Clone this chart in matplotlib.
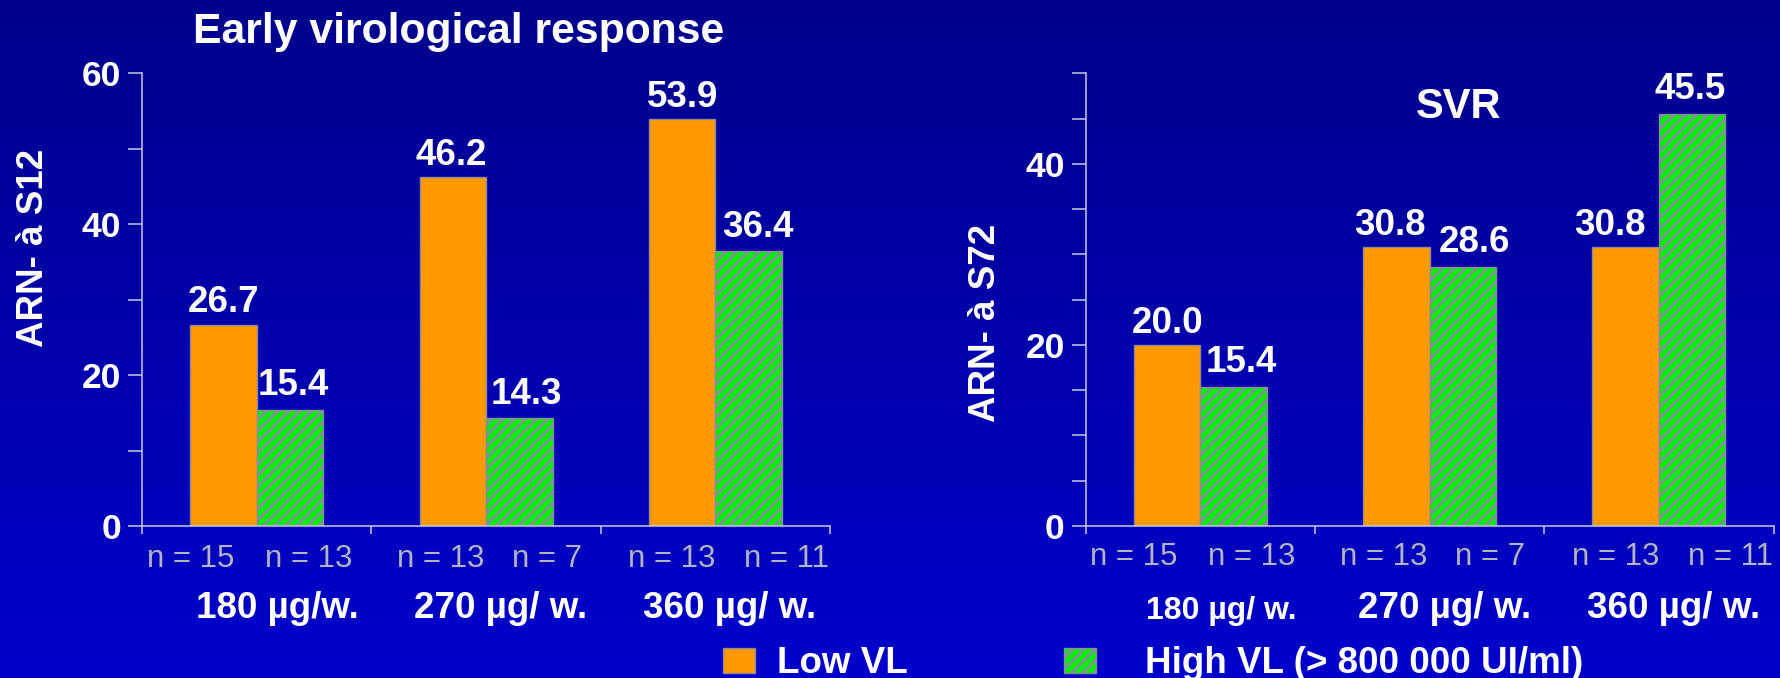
import numpy as np
import matplotlib
matplotlib.use("Agg")
import matplotlib.pyplot as plt
import matplotlib.transforms as mtransforms
from matplotlib.patches import Rectangle

# ---- data ----
doses_left = ["180 µg/w.", "270 µg/ w.", "360 µg/ w."]
doses_right = ["180 µg/ w.", "270 µg/ w.", "360 µg/ w."]
evr_low = [26.7, 46.2, 53.9]
evr_high = [15.4, 14.3, 36.4]
svr_low = [20.0, 30.8, 30.8]
svr_high = [15.4, 28.6, 45.5]
n_low = [15, 13, 13]
n_high = [13, 7, 11]
series_names = ["Low VL", "High VL (> 800 000 UI/ml)"]

# ---- style ----
plt.rcParams["font.family"] = ["Liberation Sans", "DejaVu Sans"]
plt.rcParams["hatch.linewidth"] = 1.9
plt.rcParams["hatch.color"] = "#1e3a9a"
ORANGE = "#ff9900"
GREEN = "#00f000"
EDGE = "#8a8aa0"
SPINE = "#c8c8dc"
NGRAY = "#b4b4be"

fig = plt.figure(figsize=(17.8, 6.78), dpi=100)

# vertical blue gradient background
bg = fig.add_axes([0, 0, 1, 1], zorder=-10)
grad = np.linspace(0, 1, 256).reshape(-1, 1)
top = np.array([0x00, 0x00, 0x8c]) / 255
bot = np.array([0x00, 0x00, 0xcc]) / 255
img = top[None, None, :] * (1 - grad[:, :, None]) + bot[None, None, :] * grad[:, :, None]
bg.imshow(img, aspect="auto", extent=[0, 1, 0, 1])
bg.set_axis_off()

ax_l = fig.add_axes([0.0799, 0.2242, 0.3864, 0.6677])
ax_r = fig.add_axes([0.6100, 0.2242, 0.3864, 0.6677])

width = 0.29
x = np.arange(3)

# horizontal offsets of the "n = .." labels inside each group
n_offsets = [(-0.29, 0.225), (-0.20, 0.265), (-0.19, 0.31)]
dose_offsets = [0.09, 1.065, 2.063]


def draw_panel(ax, low, high, ymax, major, minor, dose_labels, n_y, dose_y, dose_sizes,
               low_shift, high_shift):
    ax.set_facecolor("none")
    b1 = ax.bar(x - width / 2, low, width, color=ORANGE, edgecolor=EDGE, linewidth=1.0, zorder=2)
    b2 = ax.bar(x + width / 2, high, width, color=GREEN, edgecolor=EDGE, linewidth=1.0,
                hatch="///", zorder=2)
    for rect, v, dx in zip(b1, low, low_shift):
        ax.annotate(f"{v:.1f}", (rect.get_x() + rect.get_width() / 2, v),
                    xytext=(dx * 0.72, 8.8), textcoords="offset points", ha="center",
                    va="baseline", color="white", fontsize=26.5, fontweight="bold")
    for rect, v, dx in zip(b2, high, high_shift):
        ax.annotate(f"{v:.1f}", (rect.get_x() + rect.get_width() / 2, v),
                    xytext=(dx * 0.72, 10.5), textcoords="offset points", ha="center",
                    va="baseline", color="white", fontsize=26.5, fontweight="bold")

    ax.set_xlim(-0.5, 2.5)
    ax.set_ylim(0, ymax)
    for s in ["top", "right"]:
        ax.spines[s].set_visible(False)
    for s in ["left", "bottom"]:
        ax.spines[s].set_color(SPINE)
        ax.spines[s].set_linewidth(1.1)
    ax.set_yticks(major)
    ax.set_yticks(minor, minor=True)
    ax.tick_params(axis="y", which="both", length=10.2, width=1.1, color=SPINE, pad=5,
                   labelcolor="white", labelsize=25.5)
    for lab in ax.get_yticklabels():
        lab.set_fontweight("bold")
    ax.set_xticks([-0.5, 0.5, 1.5, 2.5])
    ax.set_xticklabels([])
    ax.tick_params(axis="x", length=6, width=1.1, color=SPINE)

    tr = mtransforms.blended_transform_factory(ax.transData, fig.transFigure)
    for g in range(3):
        ax.text(g + n_offsets[g][0], n_y, f"n = {n_low[g]}", transform=tr, ha="center",
                va="center", color=NGRAY, fontsize=22.5)
        ax.text(g + n_offsets[g][1], n_y, f"n = {n_high[g]}", transform=tr, ha="center",
                va="center", color=NGRAY, fontsize=22.5)
        ax.text(dose_offsets[g], dose_y[g], dose_labels[g], transform=tr, ha="center",
                va="center", color="white", fontsize=dose_sizes[g], fontweight="bold")


draw_panel(ax_l, evr_low, evr_high, 60, [0, 20, 40, 60], [10, 30, 50], doses_left,
           1 - 559 / 678, [1 - 608 / 678] * 3, [26.5, 26.5, 26.5],
           [0, -1.5, 0], [3, 7, 9.5])
draw_panel(ax_r, svr_low, svr_high, 50, [0, 20, 40], [5, 10, 15, 25, 30, 35, 45, 50], doses_right,
           1 - 557 / 678, [1 - 610.7 / 678, 1 - 608 / 678, 1 - 608 / 678], [23, 26.5, 26.5],
           [0, -7, -16], [8, 12, -2])

# titles and axis labels
fig.text(0.2576, 1 - 43 / 678, "Early virological response", ha="center", va="baseline",
         color="white", fontsize=30.7, fontweight="bold")
fig.text(0.8193, 1 - 118.3 / 678, "SVR", ha="center", va="baseline",
         color="white", fontsize=30, fontweight="bold")
fig.text(0.0191, 0.6350, "ARN- à S12", rotation=90, ha="center", va="center",
         color="white", fontsize=26.5, fontweight="bold")
fig.text(0.5534, 0.5243, "ARN- à S72", rotation=90, ha="center", va="center",
         color="white", fontsize=26.5, fontweight="bold")

# legend
ly0 = 1 - 672.7 / 678
lh = 24.4 / 678
fig.add_artist(Rectangle((722.7 / 1780, ly0), 32.3 / 1780, lh, transform=fig.transFigure,
                         facecolor=ORANGE, edgecolor=EDGE, linewidth=1.0))
fig.add_artist(Rectangle((1064.3 / 1780, ly0), 31.4 / 1780, lh, transform=fig.transFigure,
                         facecolor=GREEN, edgecolor=EDGE, linewidth=1.0, hatch="///"))
fig.text(776.7 / 1780, ly0, series_names[0], ha="left", va="baseline",
         color="white", fontsize=26.5, fontweight="bold")
fig.text(1145 / 1780, ly0, series_names[1], ha="left", va="baseline",
         color="white", fontsize=26.5, fontweight="bold")

fig.savefig("out.png", dpi=100)
